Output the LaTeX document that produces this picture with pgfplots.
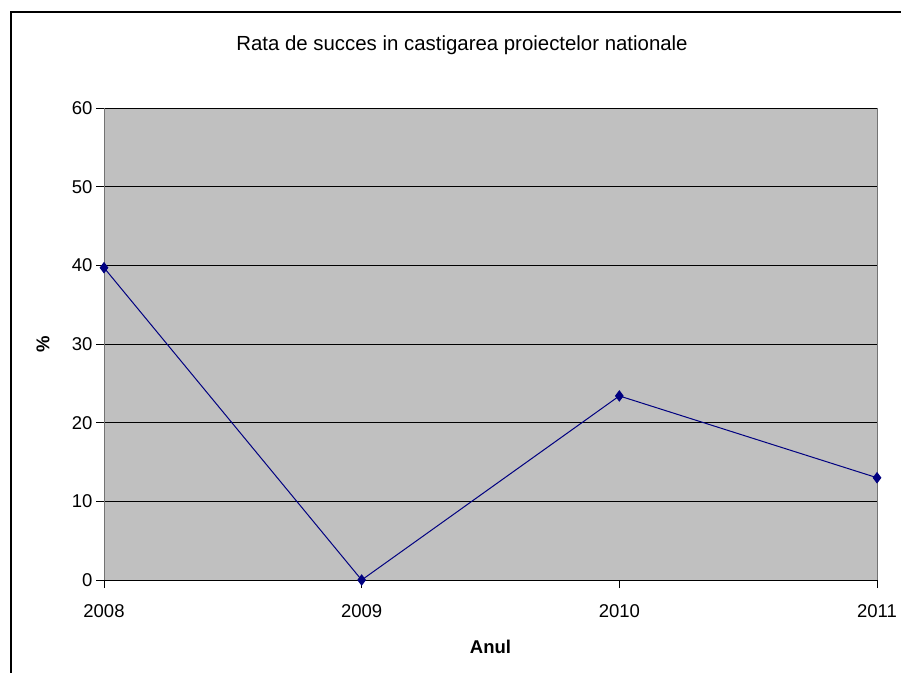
\documentclass[border=0pt]{standalone}
\usepackage{pgfplots}
\pgfplotsset{compat=1.18}
\usepackage{fontspec}
\setmainfont{Liberation Sans}
\definecolor{plotgrey}{HTML}{C0C0C0}
\definecolor{navyline}{HTML}{000080}
\begin{document}
\begin{tikzpicture}
\useasboundingbox (0pt,0pt) rectangle (901pt,672pt);
\fill[white] (0pt,0pt) rectangle (901pt,672pt);
% outer chart frame (cut by the page on the right and bottom)
\draw[line width=2pt] (11pt,-10pt) -- (11pt,660pt) -- (911pt,660pt);
\node[font=\fontsize{20.4}{24}\selectfont] at (462pt,627pt) {Rata de succes in castigarea proiectelor nationale};
\begin{axis}[
  at={(104pt,92pt)}, anchor=south west,
  scale only axis, width=773pt, height=472pt,
  xmin=0, xmax=3, ymin=0, ymax=60,
  xtick={0,1,2,3},
  xticklabels={},
  ytick={0,10,20,30,40,50,60},
  /pgf/number format/assume math mode=true,
  tick label style={font=\fontsize{18.5}{22}\selectfont},
  label style={font=\fontsize{18.5}{22}\selectfont\bfseries},
  xlabel={Anul}, ylabel={\%},
  xlabel style={at={(axis description cs:0.5,0)}, anchor=base, yshift=-73pt},
  ylabel style={at={(axis description cs:-0.079,0.5)}, anchor=center},
  axis background/.style={fill=plotgrey},
  axis line style={draw=gray!90!black, line width=1pt},
  separate axis lines,
  x axis line style={draw=black},
  ymajorgrids, major grid style={black, line width=1pt},
  tick style={black, line width=1pt},
  tick align=outside, major tick length=8pt,
  xtick pos=bottom, ytick pos=left,
  clip=false,
]
\addplot[navyline, line width=1pt, mark=diamond*, mark size=5pt,
  mark options={fill=navyline, draw=navyline}]
  coordinates {(0,39.7) (1,0) (2,23.4) (3,13.0)};
% year labels under the ticks
\foreach \i/\yr in {0/2008,1/2009,2/2010,3/2011}{
  \edef\temp{\noexpand\node[font=\noexpand\fontsize{18.5}{22}\noexpand\selectfont, anchor=base, yshift=-37pt] at (axis cs:\i,0) {\yr};}
  \temp
}
\end{axis}
\end{tikzpicture}
\end{document}
